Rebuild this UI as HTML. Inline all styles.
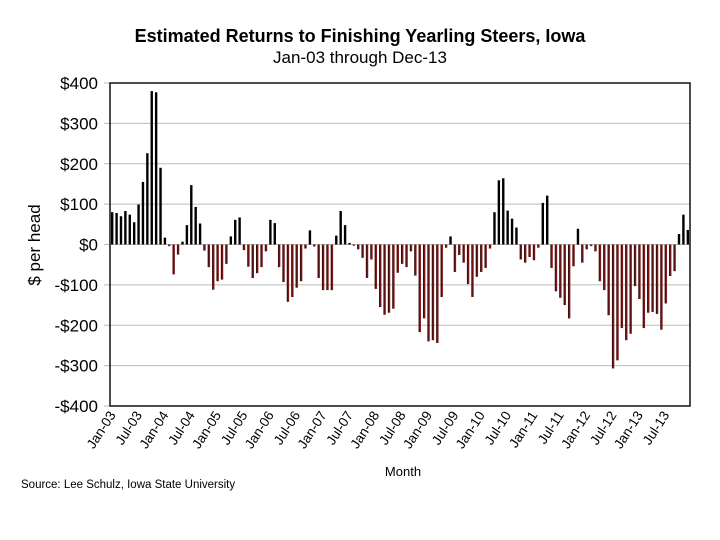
<!DOCTYPE html>
<html><head><meta charset="utf-8"><style>
body{margin:0;background:#fff;font-family:"Liberation Sans",Arial,sans-serif}
svg{display:block}
</style></head><body>
<svg width="720" height="540" viewBox="0 0 720 540" id="chart">
<defs>
<linearGradient id="neg" x1="0" y1="0" x2="1" y2="0">
<stop offset="0" stop-color="#2a0606"/><stop offset="1" stop-color="#9a1f1f"/>
</linearGradient>
</defs>
<text x="360" y="42" text-anchor="middle" font-size="18" font-weight="bold">Estimated Returns to Finishing Yearling Steers, Iowa</text>
<text x="360" y="63" text-anchor="middle" font-size="17">Jan-03 through Dec-13</text>
<text transform="translate(40,245) rotate(-90)" text-anchor="middle" font-size="17">$ per head</text>
<text x="403" y="476" text-anchor="middle" font-size="13">Month</text>
<text x="21" y="488" font-size="11.5">Source: Lee Schulz, Iowa State University</text>
<g id="grid"></g>
<g id="bars"></g>
<rect x="110" y="83" width="580" height="323" fill="none" stroke="#111" stroke-width="1.5"/>
<g id="ylabels"></g>
<g id="xlabels"></g>
</svg>
<script>
const values = [80,78,70,83,74,55,99,155,226,380,377,190,
17,-4,-74,-25,7,48,147,93,52,-15,-56,-112,
-91,-87,-48,20,61,67,-14,-55,-83,-71,-56,-17,
61,53,-56,-93,-142,-130,-107,-91,-10,35,-5,-83,
-113,-113,-113,22,83,48,4,-3,-12,-33,-83,-37,
-110,-155,-174,-169,-159,-70,-48,-56,-17,-77,-217,-183,
-240,-237,-244,-130,-8,20,-68,-26,-45,-98,-130,-80,
-68,-58,-10,80,159,164,84,64,42,-37,-45,-31,
-39,-8,103,121,-58,-116,-132,-150,-183,-54,39,-45,
-12,-4,-17,-91,-113,-175,-307,-287,-207,-237,-221,-103,
-135,-207,-169,-167,-172,-211,-146,-78,-66,26,74,36];
const yTicks = [400,300,200,100,0,-100,-200,-300,-400];
const xTickLabels = ["Jan-03","Jul-03","Jan-04","Jul-04","Jan-05","Jul-05","Jan-06","Jul-06","Jan-07","Jul-07","Jan-08","Jul-08","Jan-09","Jul-09","Jan-10","Jul-10","Jan-11","Jul-11","Jan-12","Jul-12","Jan-13","Jul-13"];
const NS="http://www.w3.org/2000/svg";
const x0=110,x1=690,yTop=83,yBot=406;
const y=v=>yTop+(400-v)/800*(yBot-yTop);
const step=(x1-x0)/values.length;
const xc=i=>x0+step*(i+0.5);
const grid=document.getElementById('grid'),yl=document.getElementById('ylabels');
yTicks.forEach(t=>{
  const l=document.createElementNS(NS,'line');
  l.setAttribute('x1',x0-6);l.setAttribute('x2',x1);l.setAttribute('y1',y(t));l.setAttribute('y2',y(t));
  l.setAttribute('stroke','#bbb');l.setAttribute('stroke-width','1');
  
  
  grid.appendChild(l);
  const tx=document.createElementNS(NS,'text');
  tx.setAttribute('x',98);tx.setAttribute('y',y(t)+6);tx.setAttribute('text-anchor','end');tx.setAttribute('font-size','17');
  tx.textContent=(t<0?'-$':'$')+Math.abs(t);
  
  
  yl.appendChild(tx);
});
const bars=document.getElementById('bars');
values.forEach((v,i)=>{
  const r=document.createElementNS(NS,'rect');
  const w=2.4;
  r.setAttribute('x',xc(i)-w/2);r.setAttribute('width',w);
  r.setAttribute('y',Math.min(y(v),y(0)));r.setAttribute('height',Math.abs(y(v)-y(0)));
  r.setAttribute('fill',v>=0?'#000':'url(#neg)');
  
  
  bars.appendChild(r);
});
const xl=document.getElementById('xlabels');
xTickLabels.forEach((s,k)=>{
  const px=xc(k*6)+4,py=415;
  const tx=document.createElementNS(NS,'text');
  tx.setAttribute('transform','translate('+px+','+py+') rotate(-57)');
  tx.setAttribute('text-anchor','end');tx.setAttribute('font-size','13.5');
  tx.textContent=s;
  
  
  xl.appendChild(tx);
});
</script>
</body></html>
